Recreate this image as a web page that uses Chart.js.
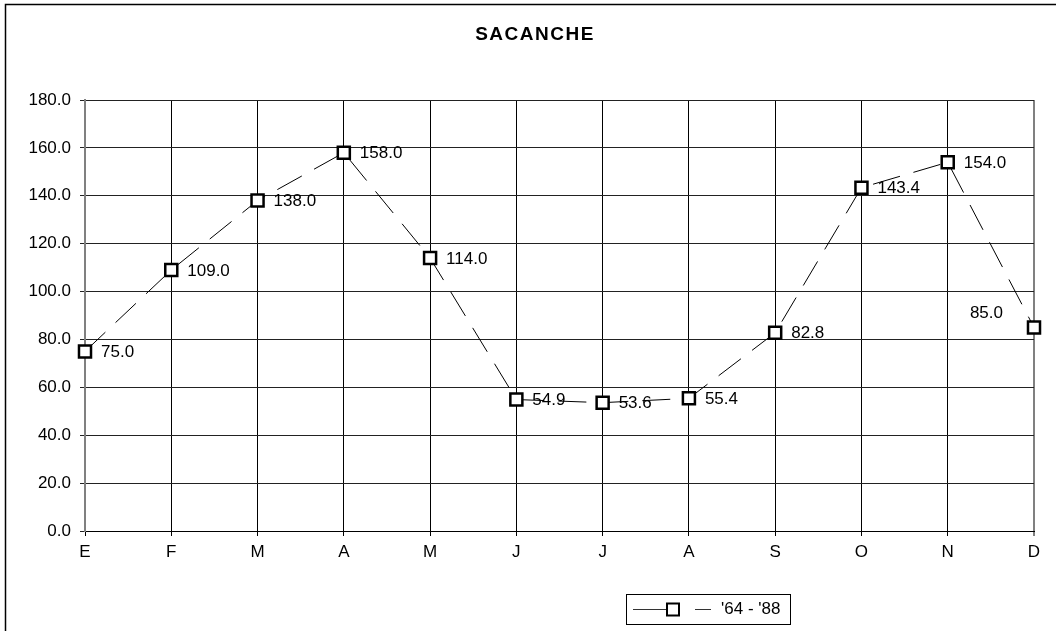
<!DOCTYPE html>
<html>
<head>
<meta charset="utf-8">
<script src="https://cdn.jsdelivr.net/npm/chart.js@4.4.1/dist/chart.umd.min.js"></script>
<style>
html,body{margin:0;padding:0;background:#fff;overflow:hidden;}
#wrap{position:absolute;left:0;top:0;width:1056px;height:631px;}
</style>
</head>
<body>
<div id="wrap"><canvas id="c" width="1056" height="631"></canvas></div>
<script>
const chartTitle = "SACANCHE";
const seriesName = "'64 - '88";
const months = ["E","F","M","A","M","J","J","A","S","O","N","D"];
const rainfall = [75.0, 109.0, 138.0, 158.0, 114.0, 54.9, 53.6, 55.4, 82.8, 143.4, 154.0, 85.0];
const yTicks = [0, 20, 40, 60, 80, 100, 120, 140, 160, 180];

const FONT = "'Liberation Sans', Arial, sans-serif";

const decorPlugin = {
  id: 'decor',
  beforeDraw(chart) {
    const ctx = chart.ctx;
    ctx.save();
    ctx.fillStyle = '#fff';
    ctx.fillRect(0, 0, chart.width, chart.height);
    ctx.restore();
  },
  afterDraw(chart) {
    const ctx = chart.ctx;
    ctx.save();
    // frame
    ctx.strokeStyle = '#000';
    ctx.lineWidth = 1.5;
    ctx.beginPath();
    ctx.moveTo(5.5, chart.height + 5);
    ctx.lineTo(5.5, 4.5);
    ctx.lineTo(chart.width + 5, 4.5);
    ctx.stroke();
    // title
    ctx.fillStyle = '#000';
    ctx.font = "bold 19px " + FONT;
    ctx.textAlign = 'center';
    ctx.textBaseline = 'middle';
    if ('letterSpacing' in ctx) ctx.letterSpacing = '1.5px';
    ctx.fillText(chartTitle, 535, 35);
    if ('letterSpacing' in ctx) ctx.letterSpacing = '0px';

    // data labels
    const meta = chart.getDatasetMeta(0);
    ctx.font = "17px " + FONT;
    ctx.textBaseline = 'middle';
    meta.data.forEach((pt, i) => {
      const txt = rainfall[i].toFixed(1);
      if (i === rainfall.length - 1) {
        ctx.textAlign = 'right';
        ctx.fillText(txt, pt.x - 31, pt.y - 14);
      } else {
        ctx.textAlign = 'left';
        ctx.fillText(txt, pt.x + 16, pt.y + 1);
      }
    });

    // legend
    const bx = 626.5, by = 594.5, bw = 164, bh = 30;
    ctx.strokeStyle = '#000';
    ctx.lineWidth = 1;
    ctx.strokeRect(bx, by, bw, bh);
    const ly = 609.5;
    ctx.strokeStyle = '#333';
    ctx.beginPath();
    ctx.moveTo(633, ly); ctx.lineTo(667, ly);
    ctx.moveTo(695, ly); ctx.lineTo(711, ly);
    ctx.stroke();
    ctx.fillStyle = '#fff';
    ctx.fillRect(667, 603.5, 12, 12);
    ctx.strokeStyle = '#000';
    ctx.lineWidth = 2;
    ctx.strokeRect(667, 603.5, 12, 12);
    ctx.fillStyle = '#000';
    ctx.font = "17px " + FONT;
    ctx.textAlign = 'left';
    ctx.textBaseline = 'middle';
    ctx.fillText(seriesName, 721, ly);
    ctx.restore();
  }
};

new Chart(document.getElementById('c'), {
  type: 'line',
  data: {
    labels: months,
    datasets: [{
      label: seriesName,
      data: rainfall,
      borderColor: '#000',
      borderWidth: 1,
      borderDash: [28, 14],
      tension: 0,
      fill: false,
      clip: false,
      pointStyle: 'rect',
      pointRadius: 8.5,
      pointHoverRadius: 8.5,
      pointBackgroundColor: '#fff',
      pointBorderColor: '#000',
      pointBorderWidth: 2.5
    }]
  },
  options: {
    responsive: false,
    animation: false,
    events: [],
    layout: { padding: { left: 5, right: 22, top: 100, bottom: 0 } },
    plugins: {
      legend: { display: false },
      title: { display: false },
      tooltip: { enabled: false }
    },
    scales: {
      x: {
        type: 'category',
        offset: false,
        afterFit(s) { s.height = 100; },
        grid: {
          offset: false,
          color: ctx => (ctx.index === months.length - 1 ? '#808080' : '#000'),
          lineWidth: ctx => (ctx.index === months.length - 1 ? 2 : 1),
          tickLength: 5,
          drawTicks: true
        },
        border: { color: '#000', width: 1 },
        ticks: {
          color: '#000',
          font: { family: FONT, size: 17 },
          padding: 6,
          maxRotation: 0,
          autoSkip: false
        }
      },
      y: {
        min: 0,
        max: 180,
        afterFit(s) { s.width = 80; },
        afterBuildTicks(s) { s.ticks = yTicks.map(v => ({ value: v })); },
        grid: {
          color: '#222',
          lineWidth: 1,
          tickLength: 5
        },
        border: { color: '#808080', width: 2 },
        ticks: {
          color: '#000',
          font: { family: FONT, size: 17 },
          padding: 9,
          callback: v => Number(v).toFixed(1)
        }
      }
    }
  },
  plugins: [decorPlugin]
});
</script>
</body>
</html>
